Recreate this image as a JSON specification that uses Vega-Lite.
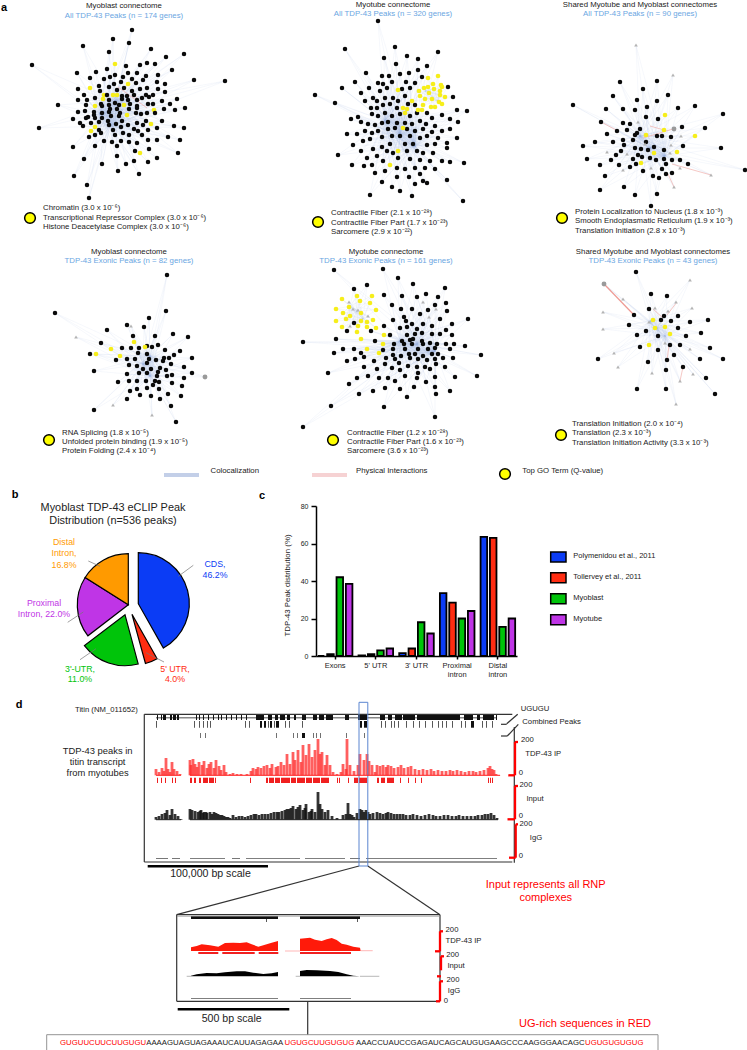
{"$schema":"https://vega.github.io/schema/vega-lite/v6.json","padding":0,"spacing":0,"config":{"view":{"stroke":null},"font":"Liberation Sans"},
"datasets":{
"hubs":[{"h":"a","hx":100,"hy":113,"ax":115,"ay":100,"bx":110,"by":125},{"h":"b","hx":400,"hy":133,"ax":385,"ay":120,"bx":415,"by":145},{"h":"b2","hx":432,"hy":97,"ax":425,"ay":90,"bx":438,"by":100},{"h":"c","hx":650,"hy":147,"ax":640,"ay":135,"bx":665,"by":155},{"h":"d","hx":143,"hy":363,"ax":150,"ay":355,"bx":150,"by":375},{"h":"e","hx":417,"hy":343,"ax":400,"ay":340,"bx":435,"by":350},{"h":"e2","hx":357,"hy":310,"ax":350,"ay":305,"bx":363,"by":318},{"h":"f","hx":657,"hy":327,"ax":650,"ay":320,"bx":665,"by":335}],
"nodes":[
{"h":"a","t":"b","x":132,"y":29},{"h":"a","t":"b","x":113,"y":38},{"h":"a","t":"b","x":129,"y":42},{"h":"a","t":"b","x":83,"y":45},{"h":"a","t":"b","x":151,"y":48},{"h":"a","t":"b","x":109,"y":51},{"h":"a","t":"b","x":184,"y":53},{"h":"a","t":"b","x":166,"y":56},{"h":"a","t":"b","x":32,"y":64},{"h":"a","t":"y","x":115,"y":63},{"h":"a","t":"b","x":126,"y":65},{"h":"a","t":"b","x":140,"y":64},{"h":"a","t":"b","x":147,"y":62},{"h":"a","t":"b","x":155,"y":63},{"h":"a","t":"b","x":172,"y":69},{"h":"a","t":"b","x":96,"y":71},{"h":"a","t":"b","x":107,"y":68},{"h":"a","t":"b","x":115,"y":74},{"h":"a","t":"b","x":77,"y":72},{"h":"a","t":"b","x":128,"y":72},{"h":"a","t":"b","x":137,"y":72},{"h":"a","t":"b","x":158,"y":74},{"h":"a","t":"b","x":90,"y":77},{"h":"a","t":"b","x":104,"y":78},{"h":"a","t":"b","x":110,"y":76},{"h":"a","t":"b","x":123,"y":76},{"h":"a","t":"b","x":132,"y":78},{"h":"a","t":"b","x":146,"y":75},{"h":"a","t":"b","x":143,"y":79},{"h":"a","t":"b","x":157,"y":81},{"h":"a","t":"b","x":194,"y":79},{"h":"a","t":"b","x":225,"y":80},{"h":"a","t":"y","x":128,"y":83},{"h":"a","t":"b","x":114,"y":83},{"h":"a","t":"b","x":121,"y":81},{"h":"a","t":"b","x":136,"y":82},{"h":"a","t":"b","x":165,"y":83},{"h":"a","t":"b","x":78,"y":88},{"h":"a","t":"y","x":90,"y":87},{"h":"a","t":"b","x":99,"y":85},{"h":"a","t":"b","x":109,"y":86},{"h":"a","t":"b","x":100,"y":90},{"h":"a","t":"b","x":117,"y":89},{"h":"a","t":"b","x":124,"y":87},{"h":"a","t":"b","x":132,"y":90},{"h":"a","t":"b","x":140,"y":88},{"h":"a","t":"b","x":147,"y":87},{"h":"a","t":"b","x":158,"y":88},{"h":"a","t":"b","x":84,"y":94},{"h":"a","t":"b","x":95,"y":97},{"h":"a","t":"y","x":104,"y":94},{"h":"a","t":"y","x":103,"y":98},{"h":"a","t":"y","x":117,"y":94},{"h":"a","t":"b","x":107,"y":94},{"h":"a","t":"y","x":113,"y":94},{"h":"a","t":"b","x":122,"y":95},{"h":"a","t":"b","x":127,"y":95},{"h":"a","t":"b","x":134,"y":94},{"h":"a","t":"b","x":146,"y":94},{"h":"a","t":"b","x":153,"y":94},{"h":"a","t":"b","x":165,"y":91},{"h":"a","t":"b","x":78,"y":99},{"h":"a","t":"b","x":87,"y":99},{"h":"a","t":"b","x":101,"y":103},{"h":"a","t":"b","x":109,"y":99},{"h":"a","t":"b","x":115,"y":102},{"h":"a","t":"b","x":122,"y":98},{"h":"a","t":"b","x":128,"y":99},{"h":"a","t":"b","x":137,"y":99},{"h":"a","t":"b","x":142,"y":97},{"h":"a","t":"b","x":149,"y":96},{"h":"a","t":"b","x":162,"y":100},{"h":"a","t":"b","x":177,"y":98},{"h":"a","t":"b","x":58,"y":104},{"h":"a","t":"b","x":86,"y":104},{"h":"a","t":"y","x":95,"y":105},{"h":"a","t":"b","x":102,"y":105},{"h":"a","t":"b","x":109,"y":104},{"h":"a","t":"b","x":119,"y":104},{"h":"a","t":"y","x":124,"y":104},{"h":"a","t":"b","x":130,"y":103},{"h":"a","t":"b","x":137,"y":105},{"h":"a","t":"b","x":148,"y":103},{"h":"a","t":"b","x":153,"y":103},{"h":"a","t":"b","x":170,"y":103},{"h":"a","t":"b","x":185,"y":107},{"h":"a","t":"b","x":78,"y":111},{"h":"a","t":"b","x":85,"y":110},{"h":"a","t":"b","x":94,"y":111},{"h":"a","t":"b","x":110,"y":108},{"h":"a","t":"b","x":117,"y":108},{"h":"a","t":"b","x":129,"y":108},{"h":"a","t":"b","x":137,"y":107},{"h":"a","t":"b","x":164,"y":108},{"h":"a","t":"b","x":175,"y":109},{"h":"a","t":"y","x":154,"y":109},{"h":"a","t":"b","x":73,"y":118},{"h":"a","t":"b","x":88,"y":116},{"h":"a","t":"b","x":94,"y":114},{"h":"a","t":"b","x":102,"y":112},{"h":"a","t":"b","x":109,"y":111},{"h":"a","t":"b","x":120,"y":112},{"h":"a","t":"y","x":127,"y":114},{"h":"a","t":"b","x":136,"y":112},{"h":"a","t":"b","x":141,"y":113},{"h":"a","t":"b","x":147,"y":112},{"h":"a","t":"b","x":155,"y":112},{"h":"a","t":"b","x":86,"y":117},{"h":"a","t":"b","x":95,"y":117},{"h":"a","t":"b","x":102,"y":117},{"h":"a","t":"b","x":111,"y":115},{"h":"a","t":"b","x":119,"y":115},{"h":"a","t":"b","x":80,"y":122},{"h":"a","t":"b","x":91,"y":122},{"h":"a","t":"b","x":99,"y":121},{"h":"a","t":"b","x":108,"y":120},{"h":"a","t":"b","x":122,"y":120},{"h":"a","t":"b","x":137,"y":122},{"h":"a","t":"b","x":146,"y":120},{"h":"a","t":"b","x":162,"y":120},{"h":"a","t":"b","x":39,"y":127},{"h":"a","t":"b","x":83,"y":125},{"h":"a","t":"y","x":95,"y":126},{"h":"a","t":"b","x":109,"y":124},{"h":"a","t":"b","x":116,"y":123},{"h":"a","t":"b","x":128,"y":124},{"h":"a","t":"b","x":143,"y":124},{"h":"a","t":"y","x":151,"y":123},{"h":"a","t":"b","x":174,"y":125},{"h":"a","t":"b","x":184,"y":127},{"h":"a","t":"y","x":91,"y":130},{"h":"a","t":"b","x":99,"y":129},{"h":"a","t":"b","x":113,"y":129},{"h":"a","t":"b","x":121,"y":126},{"h":"a","t":"b","x":134,"y":128},{"h":"a","t":"b","x":138,"y":130},{"h":"a","t":"b","x":148,"y":129},{"h":"a","t":"b","x":157,"y":127},{"h":"a","t":"b","x":89,"y":136},{"h":"a","t":"b","x":95,"y":134},{"h":"a","t":"b","x":101,"y":132},{"h":"a","t":"b","x":115,"y":134},{"h":"a","t":"b","x":123,"y":132},{"h":"a","t":"b","x":129,"y":134},{"h":"a","t":"b","x":142,"y":134},{"h":"a","t":"b","x":168,"y":136},{"h":"a","t":"b","x":157,"y":139},{"h":"a","t":"b","x":148,"y":139},{"h":"a","t":"b","x":104,"y":140},{"h":"a","t":"b","x":112,"y":141},{"h":"a","t":"b","x":121,"y":140},{"h":"a","t":"b","x":129,"y":141},{"h":"a","t":"b","x":137,"y":142},{"h":"a","t":"b","x":180,"y":139},{"h":"a","t":"b","x":73,"y":146},{"h":"a","t":"b","x":95,"y":145},{"h":"a","t":"b","x":117,"y":145},{"h":"a","t":"b","x":149,"y":148},{"h":"a","t":"b","x":135,"y":150},{"h":"a","t":"y","x":140,"y":152},{"h":"a","t":"b","x":178,"y":152},{"h":"a","t":"b","x":84,"y":158},{"h":"a","t":"b","x":117,"y":155},{"h":"a","t":"b","x":157,"y":157},{"h":"a","t":"b","x":102,"y":163},{"h":"a","t":"b","x":126,"y":163},{"h":"a","t":"b","x":134,"y":160},{"h":"a","t":"b","x":148,"y":161},{"h":"a","t":"b","x":118,"y":170},{"h":"a","t":"b","x":139,"y":173},{"h":"a","t":"b","x":74,"y":175},{"h":"a","t":"b","x":87,"y":184},{"h":"a","t":"b","x":89,"y":197},
{"h":"b","t":"b","x":378,"y":20},{"h":"b","t":"b","x":345,"y":48},{"h":"b","t":"b","x":395,"y":46},{"h":"b","t":"b","x":438,"y":51},{"h":"b","t":"b","x":384,"y":57},{"h":"b","t":"b","x":407,"y":55},{"h":"b","t":"b","x":418,"y":58},{"h":"b","t":"b","x":396,"y":63},{"h":"b","t":"b","x":427,"y":65},{"h":"b","t":"b","x":315,"y":94},{"h":"b","t":"b","x":335,"y":102},{"h":"b","t":"b","x":342,"y":87},{"h":"b","t":"b","x":355,"y":81},{"h":"b","t":"b","x":366,"y":72},{"h":"b","t":"b","x":361,"y":92},{"h":"b","t":"b","x":369,"y":87},{"h":"b","t":"b","x":382,"y":75},{"h":"b","t":"b","x":389,"y":75},{"h":"b","t":"b","x":400,"y":73},{"h":"b","t":"b","x":409,"y":72},{"h":"b","t":"b","x":418,"y":69},{"h":"b","t":"b","x":422,"y":76},{"h":"b","t":"b","x":378,"y":82},{"h":"b","t":"b","x":383,"y":83},{"h":"b","t":"b","x":392,"y":81},{"h":"b","t":"b","x":406,"y":81},{"h":"b","t":"b","x":415,"y":82},{"h":"b","t":"b","x":373,"y":97},{"h":"b","t":"b","x":380,"y":90},{"h":"b","t":"b","x":387,"y":87},{"h":"b","t":"b","x":402,"y":88},{"h":"b","t":"b","x":410,"y":87},{"h":"b","t":"b","x":365,"y":100},{"h":"b","t":"b","x":377,"y":100},{"h":"b","t":"b","x":385,"y":97},{"h":"b","t":"b","x":393,"y":97},{"h":"b","t":"b","x":405,"y":95},{"h":"b","t":"b","x":398,"y":100},{"h":"b","t":"b","x":371,"y":107},{"h":"b","t":"b","x":377,"y":107},{"h":"b","t":"b","x":383,"y":104},{"h":"b","t":"b","x":390,"y":103},{"h":"b","t":"b","x":408,"y":103},{"h":"b","t":"b","x":415,"y":104},{"h":"b","t":"b","x":397,"y":107},{"h":"b","t":"b","x":358,"y":116},{"h":"b","t":"b","x":351,"y":118},{"h":"b","t":"b","x":361,"y":121},{"h":"b","t":"b","x":372,"y":113},{"h":"b","t":"b","x":378,"y":115},{"h":"b","t":"b","x":385,"y":112},{"h":"b","t":"b","x":392,"y":115},{"h":"b","t":"b","x":400,"y":113},{"h":"b","t":"b","x":410,"y":115},{"h":"b","t":"b","x":417,"y":112},{"h":"b","t":"b","x":427,"y":112},{"h":"b","t":"b","x":432,"y":117},{"h":"b","t":"b","x":442,"y":114},{"h":"b","t":"b","x":450,"y":118},{"h":"b","t":"b","x":458,"y":121},{"h":"b","t":"b","x":467,"y":110},{"h":"b","t":"b","x":457,"y":109},{"h":"b","t":"b","x":368,"y":123},{"h":"b","t":"b","x":375,"y":124},{"h":"b","t":"b","x":382,"y":122},{"h":"b","t":"b","x":388,"y":121},{"h":"b","t":"b","x":397,"y":122},{"h":"b","t":"b","x":405,"y":122},{"h":"b","t":"b","x":412,"y":123},{"h":"b","t":"b","x":420,"y":120},{"h":"b","t":"b","x":426,"y":123},{"h":"b","t":"b","x":435,"y":125},{"h":"b","t":"b","x":347,"y":133},{"h":"b","t":"b","x":357,"y":133},{"h":"b","t":"b","x":365,"y":130},{"h":"b","t":"b","x":372,"y":132},{"h":"b","t":"b","x":378,"y":130},{"h":"b","t":"b","x":388,"y":128},{"h":"b","t":"b","x":395,"y":127},{"h":"b","t":"b","x":407,"y":128},{"h":"b","t":"b","x":415,"y":130},{"h":"b","t":"b","x":423,"y":128},{"h":"b","t":"b","x":432,"y":131},{"h":"b","t":"b","x":442,"y":130},{"h":"b","t":"b","x":450,"y":128},{"h":"b","t":"b","x":363,"y":140},{"h":"b","t":"b","x":370,"y":138},{"h":"b","t":"b","x":382,"y":136},{"h":"b","t":"b","x":392,"y":135},{"h":"b","t":"b","x":400,"y":135},{"h":"b","t":"b","x":410,"y":135},{"h":"b","t":"b","x":420,"y":137},{"h":"b","t":"b","x":427,"y":135},{"h":"b","t":"b","x":438,"y":137},{"h":"b","t":"b","x":457,"y":137},{"h":"b","t":"b","x":353,"y":144},{"h":"b","t":"b","x":361,"y":150},{"h":"b","t":"b","x":373,"y":148},{"h":"b","t":"b","x":382,"y":146},{"h":"b","t":"b","x":390,"y":143},{"h":"b","t":"b","x":405,"y":143},{"h":"b","t":"b","x":413,"y":143},{"h":"b","t":"b","x":427,"y":144},{"h":"b","t":"b","x":435,"y":143},{"h":"b","t":"b","x":447,"y":142},{"h":"b","t":"b","x":338,"y":154},{"h":"b","t":"b","x":367,"y":157},{"h":"b","t":"b","x":377,"y":155},{"h":"b","t":"b","x":387,"y":150},{"h":"b","t":"b","x":393,"y":152},{"h":"b","t":"b","x":407,"y":150},{"h":"b","t":"b","x":417,"y":150},{"h":"b","t":"b","x":423,"y":152},{"h":"b","t":"b","x":433,"y":152},{"h":"b","t":"b","x":447,"y":147},{"h":"b","t":"b","x":352,"y":164},{"h":"b","t":"b","x":364,"y":165},{"h":"b","t":"b","x":372,"y":164},{"h":"b","t":"b","x":383,"y":160},{"h":"b","t":"b","x":398,"y":157},{"h":"b","t":"b","x":410,"y":158},{"h":"b","t":"b","x":420,"y":159},{"h":"b","t":"b","x":430,"y":160},{"h":"b","t":"b","x":442,"y":160},{"h":"b","t":"b","x":450,"y":161},{"h":"b","t":"b","x":464,"y":162},{"h":"b","t":"b","x":375,"y":172},{"h":"b","t":"b","x":385,"y":170},{"h":"b","t":"b","x":397,"y":167},{"h":"b","t":"b","x":405,"y":168},{"h":"b","t":"b","x":415,"y":167},{"h":"b","t":"b","x":425,"y":167},{"h":"b","t":"b","x":435,"y":168},{"h":"b","t":"b","x":397,"y":176},{"h":"b","t":"b","x":409,"y":176},{"h":"b","t":"b","x":420,"y":173},{"h":"b","t":"b","x":382,"y":181},{"h":"b","t":"b","x":392,"y":186},{"h":"b","t":"b","x":415,"y":183},{"h":"b","t":"b","x":423,"y":180},{"h":"b","t":"b","x":427,"y":182},{"h":"b","t":"b","x":447,"y":179},{"h":"b","t":"b","x":400,"y":190},{"h":"b","t":"b","x":370,"y":194},{"h":"b","t":"b","x":412,"y":195},{"h":"b","t":"b","x":463,"y":200},{"h":"b2","t":"b","x":448,"y":86},{"h":"b2","t":"b","x":453,"y":96},
{"h":"b2","t":"y","x":438,"y":75},{"h":"b2","t":"y","x":428,"y":77},{"h":"b2","t":"y","x":419,"y":90},{"h":"b2","t":"y","x":424,"y":87},{"h":"b2","t":"y","x":428,"y":86},{"h":"b2","t":"y","x":434,"y":88},{"h":"b2","t":"y","x":433,"y":83},{"h":"b2","t":"y","x":441,"y":84},{"h":"b2","t":"y","x":442,"y":86},{"h":"b2","t":"y","x":429,"y":92},{"h":"b2","t":"y","x":440,"y":90},{"h":"b2","t":"y","x":420,"y":95},{"h":"b2","t":"y","x":425,"y":98},{"h":"b2","t":"y","x":432,"y":98},{"h":"b2","t":"y","x":440,"y":94},{"h":"b2","t":"y","x":445,"y":96},{"h":"b2","t":"y","x":439,"y":101},{"h":"b2","t":"y","x":412,"y":100},{"h":"b2","t":"y","x":423,"y":104},{"h":"b2","t":"y","x":431,"y":106},{"h":"b2","t":"y","x":435,"y":106},{"h":"b2","t":"y","x":442,"y":103},{"h":"b","t":"y","x":398,"y":89},{"h":"b","t":"y","x":403,"y":107},{"h":"b","t":"y","x":407,"y":108},{"h":"b","t":"y","x":405,"y":112},{"h":"b","t":"y","x":418,"y":109},{"h":"b","t":"y","x":422,"y":109},{"h":"b","t":"y","x":403,"y":127},{"h":"b","t":"y","x":398,"y":150},{"h":"b","t":"y","x":390,"y":164},
{"h":"c","t":"g","x":636,"y":44},{"h":"c","t":"g","x":673,"y":74},{"h":"c","t":"b","x":573,"y":104},{"h":"c","t":"b","x":620,"y":81},{"h":"c","t":"b","x":657,"y":80},{"h":"c","t":"b","x":643,"y":88},{"h":"c","t":"b","x":668,"y":94},{"h":"c","t":"b","x":613,"y":95},{"h":"c","t":"b","x":637,"y":99},{"h":"c","t":"b","x":657,"y":100},{"h":"c","t":"b","x":606,"y":108},{"h":"c","t":"b","x":623,"y":108},{"h":"c","t":"b","x":635,"y":109},{"h":"c","t":"b","x":647,"y":106},{"h":"c","t":"b","x":678,"y":107},{"h":"c","t":"b","x":695,"y":105},{"h":"c","t":"b","x":723,"y":113},{"h":"c","t":"b","x":646,"y":116},{"h":"c","t":"b","x":658,"y":118},{"h":"c","t":"b","x":601,"y":121},{"h":"c","t":"b","x":623,"y":122},{"h":"c","t":"b","x":630,"y":123},{"h":"c","t":"b","x":640,"y":128},{"h":"c","t":"b","x":682,"y":126},{"h":"c","t":"b","x":705,"y":127},{"h":"c","t":"b","x":617,"y":130},{"h":"c","t":"b","x":627,"y":129},{"h":"c","t":"b","x":607,"y":133},{"h":"c","t":"b","x":637,"y":132},{"h":"c","t":"b","x":657,"y":135},{"h":"c","t":"b","x":662,"y":135},{"h":"c","t":"b","x":671,"y":136},{"h":"c","t":"b","x":595,"y":141},{"h":"c","t":"b","x":613,"y":141},{"h":"c","t":"b","x":623,"y":139},{"h":"c","t":"b","x":633,"y":139},{"h":"c","t":"b","x":635,"y":134},{"h":"c","t":"b","x":646,"y":141},{"h":"c","t":"b","x":583,"y":145},{"h":"c","t":"b","x":624,"y":144},{"h":"c","t":"b","x":635,"y":147},{"h":"c","t":"b","x":641,"y":148},{"h":"c","t":"b","x":648,"y":149},{"h":"c","t":"b","x":654,"y":146},{"h":"c","t":"b","x":664,"y":149},{"h":"c","t":"b","x":683,"y":145},{"h":"c","t":"b","x":721,"y":147},{"h":"c","t":"b","x":621,"y":150},{"h":"c","t":"b","x":616,"y":154},{"h":"c","t":"b","x":638,"y":154},{"h":"c","t":"b","x":587,"y":158},{"h":"c","t":"b","x":611,"y":159},{"h":"c","t":"b","x":633,"y":158},{"h":"c","t":"b","x":642,"y":156},{"h":"c","t":"b","x":650,"y":157},{"h":"c","t":"b","x":656,"y":159},{"h":"c","t":"b","x":664,"y":158},{"h":"c","t":"b","x":672,"y":159},{"h":"c","t":"b","x":680,"y":159},{"h":"c","t":"b","x":600,"y":164},{"h":"c","t":"b","x":619,"y":164},{"h":"c","t":"b","x":630,"y":166},{"h":"c","t":"b","x":636,"y":163},{"h":"c","t":"b","x":666,"y":163},{"h":"c","t":"b","x":688,"y":163},{"h":"c","t":"b","x":643,"y":170},{"h":"c","t":"b","x":662,"y":168},{"h":"c","t":"b","x":666,"y":173},{"h":"c","t":"b","x":672,"y":172},{"h":"c","t":"b","x":605,"y":175},{"h":"c","t":"b","x":653,"y":175},{"h":"c","t":"b","x":659,"y":177},{"h":"c","t":"b","x":624,"y":186},{"h":"c","t":"b","x":600,"y":189},{"h":"c","t":"b","x":635,"y":194},{"h":"c","t":"b","x":657,"y":193},{"h":"c","t":"b","x":651,"y":205},{"h":"c","t":"b","x":745,"y":169},{"h":"c","t":"y","x":665,"y":114},{"h":"c","t":"y","x":664,"y":129},{"h":"c","t":"y","x":646,"y":134},{"h":"c","t":"y","x":695,"y":135},{"h":"c","t":"y","x":654,"y":152},{"h":"c","t":"y","x":677,"y":151},{"h":"c","t":"y","x":641,"y":162},{"h":"c","t":"G","x":674,"y":128},{"h":"c","t":"g","x":627,"y":153},{"h":"c","t":"g","x":638,"y":121},{"h":"c","t":"g","x":681,"y":135},{"h":"c","t":"g","x":671,"y":144},{"h":"c","t":"g","x":645,"y":143},{"h":"c","t":"g","x":607,"y":151},{"h":"c","t":"g","x":670,"y":152},{"h":"c","t":"g","x":623,"y":169},{"h":"c","t":"g","x":651,"y":167},{"h":"c","t":"g","x":680,"y":167},{"h":"c","t":"g","x":674,"y":186},{"h":"c","t":"g","x":711,"y":174},
{"h":"d","t":"b","x":167,"y":274},{"h":"d","t":"b","x":55,"y":312},{"h":"d","t":"b","x":166,"y":310},{"h":"d","t":"b","x":149,"y":317},{"h":"d","t":"b","x":127,"y":324},{"h":"d","t":"b","x":144,"y":326},{"h":"d","t":"b","x":107,"y":329},{"h":"d","t":"b","x":173,"y":333},{"h":"d","t":"b","x":133,"y":335},{"h":"d","t":"b","x":155,"y":335},{"h":"d","t":"b","x":188,"y":336},{"h":"d","t":"b","x":101,"y":342},{"h":"d","t":"b","x":158,"y":344},{"h":"d","t":"b","x":147,"y":345},{"h":"d","t":"b","x":122,"y":347},{"h":"d","t":"b","x":131,"y":347},{"h":"d","t":"b","x":139,"y":347},{"h":"d","t":"b","x":152,"y":346},{"h":"d","t":"b","x":165,"y":349},{"h":"d","t":"b","x":180,"y":350},{"h":"d","t":"b","x":90,"y":353},{"h":"d","t":"b","x":138,"y":352},{"h":"d","t":"b","x":174,"y":354},{"h":"d","t":"b","x":116,"y":359},{"h":"d","t":"b","x":127,"y":358},{"h":"d","t":"b","x":135,"y":358},{"h":"d","t":"b","x":147,"y":353},{"h":"d","t":"b","x":156,"y":359},{"h":"d","t":"b","x":164,"y":357},{"h":"d","t":"b","x":169,"y":357},{"h":"d","t":"b","x":192,"y":357},{"h":"d","t":"b","x":129,"y":364},{"h":"d","t":"b","x":137,"y":365},{"h":"d","t":"b","x":149,"y":358},{"h":"d","t":"b","x":147,"y":362},{"h":"d","t":"b","x":163,"y":360},{"h":"d","t":"b","x":171,"y":363},{"h":"d","t":"b","x":94,"y":370},{"h":"d","t":"b","x":143,"y":368},{"h":"d","t":"b","x":151,"y":368},{"h":"d","t":"b","x":160,"y":367},{"h":"d","t":"b","x":166,"y":369},{"h":"d","t":"b","x":184,"y":366},{"h":"d","t":"b","x":192,"y":372},{"h":"d","t":"b","x":127,"y":373},{"h":"d","t":"b","x":139,"y":372},{"h":"d","t":"b","x":147,"y":372},{"h":"d","t":"b","x":158,"y":371},{"h":"d","t":"b","x":172,"y":374},{"h":"d","t":"b","x":167,"y":375},{"h":"d","t":"b","x":157,"y":375},{"h":"d","t":"b","x":184,"y":377},{"h":"d","t":"b","x":118,"y":381},{"h":"d","t":"b","x":129,"y":380},{"h":"d","t":"b","x":137,"y":380},{"h":"d","t":"b","x":146,"y":380},{"h":"d","t":"b","x":155,"y":380},{"h":"d","t":"b","x":172,"y":382},{"h":"d","t":"b","x":159,"y":381},{"h":"d","t":"b","x":182,"y":385},{"h":"d","t":"b","x":137,"y":388},{"h":"d","t":"b","x":130,"y":390},{"h":"d","t":"b","x":147,"y":387},{"h":"d","t":"b","x":153,"y":384},{"h":"d","t":"b","x":159,"y":388},{"h":"d","t":"b","x":168,"y":393},{"h":"d","t":"b","x":140,"y":394},{"h":"d","t":"b","x":151,"y":395},{"h":"d","t":"b","x":160,"y":398},{"h":"d","t":"b","x":181,"y":395},{"h":"d","t":"b","x":127,"y":398},{"h":"d","t":"b","x":171,"y":405},{"h":"d","t":"b","x":94,"y":409},{"h":"d","t":"b","x":176,"y":421},{"h":"d","t":"y","x":134,"y":341},{"h":"d","t":"y","x":111,"y":348},{"h":"d","t":"y","x":145,"y":346},{"h":"d","t":"y","x":96,"y":353},{"h":"d","t":"y","x":120,"y":355},{"h":"d","t":"g","x":76,"y":336},{"h":"d","t":"g","x":113,"y":404},{"h":"d","t":"g","x":152,"y":414},{"h":"d","t":"G","x":205,"y":376},{"h":"d","t":"g","x":131,"y":325},
{"h":"e","t":"b","x":334,"y":269},{"h":"e","t":"b","x":383,"y":268},{"h":"e","t":"b","x":398,"y":277},{"h":"e","t":"b","x":413,"y":283},{"h":"e","t":"b","x":445,"y":287},{"h":"e2","t":"b","x":354,"y":288},{"h":"e2","t":"b","x":367,"y":284},{"h":"e","t":"b","x":384,"y":294},{"h":"e","t":"b","x":402,"y":295},{"h":"e","t":"b","x":417,"y":296},{"h":"e","t":"b","x":426,"y":293},{"h":"e","t":"b","x":438,"y":296},{"h":"e","t":"b","x":392,"y":304},{"h":"e","t":"b","x":435,"y":304},{"h":"e","t":"b","x":446,"y":302},{"h":"e","t":"b","x":401,"y":308},{"h":"e","t":"b","x":412,"y":308},{"h":"e","t":"b","x":428,"y":309},{"h":"e","t":"b","x":447,"y":310},{"h":"e","t":"b","x":420,"y":313},{"h":"e","t":"b","x":404,"y":316},{"h":"e","t":"b","x":393,"y":319},{"h":"e","t":"b","x":406,"y":320},{"h":"e","t":"b","x":440,"y":318},{"h":"e","t":"b","x":468,"y":318},{"h":"e2","t":"b","x":354,"y":322},{"h":"e","t":"b","x":384,"y":325},{"h":"e","t":"b","x":400,"y":327},{"h":"e","t":"b","x":412,"y":323},{"h":"e","t":"b","x":423,"y":323},{"h":"e","t":"b","x":452,"y":323},{"h":"e","t":"b","x":432,"y":325},{"h":"e2","t":"b","x":347,"y":330},{"h":"e","t":"b","x":407,"y":326},{"h":"e","t":"b","x":446,"y":329},{"h":"e","t":"b","x":417,"y":328},{"h":"e","t":"b","x":371,"y":330},{"h":"e","t":"b","x":422,"y":332},{"h":"e","t":"b","x":432,"y":333},{"h":"e","t":"b","x":440,"y":333},{"h":"e","t":"b","x":452,"y":334},{"h":"e","t":"b","x":390,"y":334},{"h":"e","t":"b","x":415,"y":333},{"h":"e","t":"b","x":407,"y":334},{"h":"e","t":"b","x":336,"y":338},{"h":"e","t":"b","x":375,"y":340},{"h":"e","t":"b","x":402,"y":340},{"h":"e","t":"b","x":410,"y":339},{"h":"e","t":"b","x":413,"y":338},{"h":"e","t":"b","x":422,"y":340},{"h":"e","t":"b","x":430,"y":342},{"h":"e","t":"b","x":437,"y":343},{"h":"e","t":"b","x":446,"y":343},{"h":"e","t":"b","x":454,"y":343},{"h":"e","t":"b","x":465,"y":345},{"h":"e","t":"b","x":394,"y":343},{"h":"e","t":"b","x":423,"y":343},{"h":"e","t":"b","x":404,"y":343},{"h":"e","t":"b","x":343,"y":348},{"h":"e","t":"b","x":354,"y":348},{"h":"e","t":"b","x":383,"y":349},{"h":"e","t":"b","x":393,"y":348},{"h":"e","t":"b","x":412,"y":343},{"h":"e","t":"b","x":405,"y":348},{"h":"e","t":"b","x":418,"y":348},{"h":"e","t":"b","x":428,"y":348},{"h":"e","t":"b","x":435,"y":347},{"h":"e","t":"b","x":450,"y":348},{"h":"e","t":"b","x":334,"y":352},{"h":"e","t":"b","x":361,"y":352},{"h":"e","t":"b","x":393,"y":354},{"h":"e","t":"b","x":401,"y":355},{"h":"e","t":"b","x":409,"y":353},{"h":"e","t":"b","x":415,"y":353},{"h":"e","t":"b","x":423,"y":355},{"h":"e","t":"b","x":432,"y":353},{"h":"e","t":"b","x":438,"y":353},{"h":"e","t":"b","x":481,"y":354},{"h":"e","t":"b","x":364,"y":356},{"h":"e","t":"b","x":374,"y":360},{"h":"e","t":"b","x":386,"y":357},{"h":"e","t":"b","x":395,"y":358},{"h":"e","t":"b","x":410,"y":357},{"h":"e","t":"b","x":418,"y":358},{"h":"e","t":"b","x":427,"y":359},{"h":"e","t":"b","x":435,"y":358},{"h":"e","t":"b","x":443,"y":357},{"h":"e","t":"b","x":453,"y":357},{"h":"e","t":"b","x":347,"y":360},{"h":"e","t":"b","x":355,"y":358},{"h":"e","t":"b","x":385,"y":363},{"h":"e","t":"b","x":399,"y":362},{"h":"e","t":"b","x":408,"y":365},{"h":"e","t":"b","x":417,"y":366},{"h":"e","t":"b","x":425,"y":366},{"h":"e","t":"b","x":436,"y":363},{"h":"e","t":"b","x":445,"y":366},{"h":"e","t":"b","x":364,"y":366},{"h":"e","t":"b","x":377,"y":368},{"h":"e","t":"b","x":392,"y":367},{"h":"e","t":"b","x":400,"y":369},{"h":"e","t":"b","x":418,"y":372},{"h":"e","t":"b","x":430,"y":368},{"h":"e","t":"b","x":328,"y":372},{"h":"e","t":"b","x":368,"y":375},{"h":"e","t":"b","x":379,"y":377},{"h":"e","t":"b","x":388,"y":377},{"h":"e","t":"b","x":405,"y":375},{"h":"e","t":"b","x":417,"y":377},{"h":"e","t":"b","x":435,"y":376},{"h":"e","t":"b","x":357,"y":377},{"h":"e","t":"b","x":455,"y":376},{"h":"e","t":"b","x":477,"y":375},{"h":"e","t":"b","x":426,"y":381},{"h":"e","t":"b","x":349,"y":383},{"h":"e","t":"b","x":395,"y":380},{"h":"e","t":"b","x":414,"y":386},{"h":"e","t":"b","x":385,"y":387},{"h":"e","t":"b","x":400,"y":388},{"h":"e","t":"b","x":435,"y":386},{"h":"e","t":"b","x":373,"y":390},{"h":"e","t":"b","x":359,"y":393},{"h":"e","t":"b","x":450,"y":390},{"h":"e","t":"b","x":407,"y":396},{"h":"e","t":"b","x":436,"y":393},{"h":"e","t":"b","x":331,"y":405},{"h":"e","t":"b","x":384,"y":406},{"h":"e","t":"b","x":435,"y":416},{"h":"e","t":"b","x":303,"y":341},{"h":"e","t":"b","x":303,"y":426},
{"h":"e2","t":"y","x":342,"y":298},{"h":"e2","t":"y","x":357,"y":295},{"h":"e2","t":"y","x":372,"y":295},{"h":"e2","t":"y","x":349,"y":306},{"h":"e2","t":"y","x":360,"y":300},{"h":"e2","t":"y","x":370,"y":302},{"h":"e2","t":"y","x":336,"y":308},{"h":"e2","t":"y","x":376,"y":309},{"h":"e2","t":"y","x":343,"y":312},{"h":"e2","t":"y","x":361,"y":312},{"h":"e2","t":"y","x":350,"y":315},{"h":"e2","t":"y","x":346,"y":318},{"h":"e2","t":"y","x":336,"y":320},{"h":"e2","t":"y","x":361,"y":320},{"h":"e2","t":"y","x":367,"y":321},{"h":"e2","t":"y","x":373,"y":319},{"h":"e2","t":"y","x":342,"y":326},{"h":"e2","t":"y","x":358,"y":325},{"h":"e2","t":"y","x":367,"y":326},{"h":"e2","t":"y","x":376,"y":327},{"h":"e2","t":"y","x":357,"y":331},{"h":"e","t":"y","x":384,"y":334},{"h":"e","t":"y","x":361,"y":338},{"h":"e","t":"y","x":383,"y":343},{"h":"e","t":"y","x":367,"y":348},{"h":"e","t":"y","x":379,"y":352},{"h":"e2","t":"g","x":349,"y":301},{"h":"e2","t":"g","x":353,"y":308},{"h":"e2","t":"g","x":358,"y":309},{"h":"e2","t":"g","x":350,"y":325},{"h":"e2","t":"g","x":368,"y":315},{"h":"e","t":"g","x":423,"y":301},{"h":"e","t":"g","x":429,"y":316},{"h":"e","t":"g","x":436,"y":308},
{"h":"f","t":"b","x":636,"y":271},{"h":"f","t":"b","x":651,"y":293},{"h":"f","t":"b","x":667,"y":295},{"h":"f","t":"b","x":649,"y":308},{"h":"f","t":"b","x":634,"y":314},{"h":"f","t":"b","x":664,"y":315},{"h":"f","t":"b","x":678,"y":315},{"h":"f","t":"b","x":661,"y":319},{"h":"f","t":"b","x":671,"y":320},{"h":"f","t":"b","x":690,"y":321},{"h":"f","t":"b","x":708,"y":319},{"h":"f","t":"b","x":629,"y":324},{"h":"f","t":"b","x":646,"y":330},{"h":"f","t":"b","x":678,"y":327},{"h":"f","t":"b","x":637,"y":334},{"h":"f","t":"b","x":658,"y":335},{"h":"f","t":"b","x":686,"y":335},{"h":"f","t":"b","x":701,"y":332},{"h":"f","t":"b","x":640,"y":346},{"h":"f","t":"b","x":670,"y":344},{"h":"f","t":"b","x":680,"y":344},{"h":"f","t":"b","x":658,"y":349},{"h":"f","t":"b","x":710,"y":347},{"h":"f","t":"b","x":674,"y":354},{"h":"f","t":"b","x":598,"y":358},{"h":"f","t":"b","x":648,"y":361},{"h":"f","t":"b","x":667,"y":359},{"h":"f","t":"b","x":700,"y":358},{"h":"f","t":"b","x":723,"y":358},{"h":"f","t":"b","x":683,"y":366},{"h":"f","t":"b","x":666,"y":369},{"h":"f","t":"b","x":706,"y":377},{"h":"f","t":"b","x":637,"y":388},{"h":"f","t":"b","x":666,"y":388},{"h":"f","t":"b","x":715,"y":393},{"h":"f","t":"y","x":653,"y":319},{"h":"f","t":"y","x":655,"y":327},{"h":"f","t":"y","x":670,"y":333},{"h":"f","t":"y","x":649,"y":344},{"h":"f","t":"y","x":665,"y":326},{"h":"f","t":"G","x":604,"y":283},{"h":"f","t":"g","x":690,"y":279},{"h":"f","t":"g","x":623,"y":298},{"h":"f","t":"g","x":676,"y":301},{"h":"f","t":"g","x":655,"y":307},{"h":"f","t":"g","x":668,"y":310},{"h":"f","t":"g","x":692,"y":307},{"h":"f","t":"g","x":603,"y":311},{"h":"f","t":"g","x":603,"y":328},{"h":"f","t":"g","x":649,"y":321},{"h":"f","t":"g","x":614,"y":352},{"h":"f","t":"g","x":618,"y":366},{"h":"f","t":"g","x":690,"y":348},{"h":"f","t":"g","x":665,"y":342},{"h":"f","t":"g","x":652,"y":372},{"h":"f","t":"g","x":693,"y":373},{"h":"f","t":"g","x":680,"y":380},{"h":"f","t":"g","x":676,"y":403}],
"aLines":[{"x":118,"y":86,"x2":147,"y2":107,"k":"e"},{"x":133,"y":93,"x2":140,"y2":100,"k":"e"},{"x":643,"y":137,"x2":673,"y2":128,"k":"e"},{"x":650,"y":125,"x2":664,"y2":129,"k":"e"},{"x":711,"y":174,"x2":672,"y2":163,"k":"e"},{"x":603,"y":122,"x2":618,"y2":130,"k":"e"},{"x":668,"y":173,"x2":674,"y2":186,"k":"e"},{"x":604,"y":283,"x2":634,"y2":314,"k":"E"},{"x":653,"y":308,"x2":663,"y2":317,"k":"e"},{"x":677,"y":301,"x2":667,"y2":314,"k":"e"},{"x":667,"y":359,"x2":669,"y2":345,"k":"e"},{"x":683,"y":366,"x2":680,"y2":380,"k":"e"},{"x":164,"y":474,"x2":199,"y2":474,"k":"c"},{"x":312,"y":474,"x2":347,"y2":474,"k":"p"}],
"go":[{"x":30,"y":217},{"x":318,"y":221},{"x":562,"y":217},{"x":49,"y":439},{"x":333,"y":439},{"x":561,"y":434},{"x":505,"y":473}],
"aTitles":[{"x":124,"y":5,"t":"Myoblast connectome"},{"x":393,"y":4,"t":"Myotube connectome"},{"x":640,"y":3.5,"t":"Shared Myotube and Myoblast connectomes"},{"x":129,"y":251,"t":"Myoblast connectome"},{"x":386,"y":251,"t":"Myotube connectome"},{"x":653,"y":251,"t":"Shared Myotube and Myoblast connectomes"}],
"aBlue":[{"x":124,"y":15,"t":"All TDP-43 Peaks (n = 174 genes)"},{"x":393,"y":13,"t":"All TDP-43 Peaks (n = 320 genes)"},{"x":640,"y":13,"t":"All TDP-43 Peaks (n = 90 genes)"},{"x":129,"y":260,"t":"TDP-43 Exonic Peaks (n = 82 genes)"},{"x":386,"y":260,"t":"TDP-43 Exonic Peaks (n = 161 genes)"},{"x":653,"y":260,"t":"TDP-43 Exonic Peaks (n = 43 genes)"}],
"aText":[{"x":43,"y":207.3,"t":"Chromatin (3.0 x 10⁻⁶)"},{"x":43,"y":217,"t":"Transcriptional Repressor Complex (3.0 x 10⁻⁶)"},{"x":43,"y":226.3,"t":"Histone Deacetylase Complex (3.0 x 10⁻⁶)"},{"x":331,"y":212,"t":"Contractile Fiber (2.1 x 10⁻²⁸)"},{"x":331,"y":221.7,"t":"Contractile Fiber Part (1.7 x 10⁻²³)"},{"x":331,"y":231,"t":"Sarcomere (2.9 x 10⁻²²)"},{"x":575,"y":211,"t":"Protein Localization to Nucleus (1.8 x 10⁻³)"},{"x":575,"y":220.3,"t":"Smooth Endoplasmatic Reticulum (1.9 x 10⁻³)"},{"x":575,"y":229.7,"t":"Translation Initiation (2.8 x 10⁻³)"},{"x":62,"y":431.7,"t":"RNA Splicing (1.8 x 10⁻⁵)"},{"x":62,"y":441,"t":"Unfolded protein binding (1.9 x 10⁻⁵)"},{"x":62,"y":450.3,"t":"Protein Folding (2.4 x 10⁻⁴)"},{"x":347,"y":431.7,"t":"Contractile Fiber (1.2 x 10⁻²⁸)"},{"x":347,"y":441,"t":"Contractile Fiber Part (1.6 x 10⁻²³)"},{"x":347,"y":450.3,"t":"Sarcomere (3.6 x 10⁻²³)"},{"x":572,"y":423,"t":"Translation Initiation (2.0 x 10⁻⁴)"},{"x":572,"y":432,"t":"Translation (2.3 x 10⁻³)"},{"x":572,"y":441.7,"t":"Translation Initiation Activity (3.3 x 10⁻³)"},{"x":210.5,"y":470.3,"t":"Colocalization"},{"x":356,"y":470.3,"t":"Physical Interactions"},{"x":522.3,"y":470.3,"t":"Top GO Term (Q-value)"}],
"pie":[{"s":"CDS","a0":0,"a1":150.5,"x":138.3,"y":601.7},{"s":"5' UTR","a0":150.5,"a1":164.7,"x":132,"y":612.3},{"s":"3'-UTR","a0":165,"a1":232.7,"x":125,"y":612.7},{"s":"Proximal Intron","a0":232.4,"a1":302.2,"x":128.3,"y":602.7},{"s":"Distal Intron","a0":302.2,"a1":360,"x":128.3,"y":602.7}],
"pieLeaders":[{"x":178.3,"y":574.3,"x2":193.3,"y2":563.3},{"x":88.3,"y":559,"x2":100,"y2":564.3},{"x":67.7,"y":620.3,"x2":83.3,"y2":610},{"x":80,"y":657.7,"x2":96,"y2":646.7},{"x":146,"y":650.7,"x2":164,"y2":660}],
"pieLabels":[{"s":"CDS","x":215,"y":561.7,"t":"CDS,"},{"s":"CDS","x":215,"y":573,"t":"46.2%"},{"s":"Distal Intron","x":64,"y":540,"t":"Distal"},{"s":"Distal Intron","x":64,"y":551.3,"t":"Intron,"},{"s":"Distal Intron","x":64,"y":563,"t":"16.8%"},{"s":"Proximal Intron","x":44,"y":601,"t":"Proximal"},{"s":"Proximal Intron","x":44,"y":612,"t":"Intron, 22.0%"},{"s":"3'-UTR","x":80,"y":666.7,"t":"3'-UTR,"},{"s":"3'-UTR","x":80,"y":677,"t":"11.0%"},{"s":"5' UTR","x":175,"y":666.7,"t":"5' UTR,"},{"s":"5' UTR","x":175,"y":677.3,"t":"4.0%"}],
"bars":[{"g":"Exons","s":"Polymenidou et al., 2011","v":0},{"g":"Exons","s":"Tollervey et al., 2011","v":1},{"g":"Exons","s":"Myoblast","v":42},{"g":"Exons","s":"Myotube","v":38.5},{"g":"5' UTR","s":"Polymenidou et al., 2011","v":0.3},{"g":"5' UTR","s":"Tollervey et al., 2011","v":1},{"g":"5' UTR","s":"Myoblast","v":3},{"g":"5' UTR","s":"Myotube","v":4},{"g":"3' UTR","s":"Polymenidou et al., 2011","v":1.5},{"g":"3' UTR","s":"Tollervey et al., 2011","v":4},{"g":"3' UTR","s":"Myoblast","v":18},{"g":"3' UTR","s":"Myotube","v":12},{"g":"Proximal intron","s":"Polymenidou et al., 2011","v":33.5},{"g":"Proximal intron","s":"Tollervey et al., 2011","v":28.5},{"g":"Proximal intron","s":"Myoblast","v":20},{"g":"Proximal intron","s":"Myotube","v":24},{"g":"Distal intron","s":"Polymenidou et al., 2011","v":63.5},{"g":"Distal intron","s":"Tollervey et al., 2011","v":63},{"g":"Distal intron","s":"Myoblast","v":15.5},{"g":"Distal intron","s":"Myotube","v":20}],
"barKey":[{"s":"Polymenidou et al., 2011","x":550.7,"x2":566,"y":550,"y2":560,"tx":573.3,"ty":554},{"s":"Tollervey et al., 2011","x":550.7,"x2":566,"y":570.7,"y2":580.7,"tx":573.3,"ty":575},{"s":"Myoblast","x":550.7,"x2":566,"y":591.7,"y2":601.7,"tx":573.3,"ty":595.7},{"s":"Myotube","x":550.7,"x2":566,"y":612.7,"y2":622.7,"tx":573.3,"ty":616.7}],
"red":[{"x":156,"y":767},{"x":159,"y":770},{"x":162,"y":766},{"x":164,"y":769},{"x":166,"y":756},{"x":168,"y":767},{"x":170,"y":770},{"x":172,"y":760},{"x":174,"y":767},{"x":177,"y":769},{"x":180,"y":772},{"x":190,"y":758},{"x":191,"y":763},{"x":193,"y":757},{"x":195,"y":762},{"x":197,"y":765},{"x":199,"y":760},{"x":202,"y":763},{"x":204,"y":759},{"x":207,"y":766},{"x":209,"y":762},{"x":211,"y":760},{"x":214,"y":766},{"x":216,"y":758},{"x":219,"y":764},{"x":221,"y":768},{"x":224,"y":763},{"x":226,"y":770},{"x":230,"y":772},{"x":233,"y":771},{"x":237,"y":772},{"x":241,"y":772},{"x":247,"y":772},{"x":251,"y":769},{"x":253,"y":766},{"x":256,"y":767},{"x":258,"y":765},{"x":261,"y":766},{"x":264,"y":764},{"x":267,"y":763},{"x":270,"y":766},{"x":272,"y":762},{"x":276,"y":765},{"x":278,"y":764},{"x":281,"y":760},{"x":284,"y":763},{"x":287,"y":752},{"x":290,"y":762},{"x":293,"y":750},{"x":295,"y":758},{"x":298,"y":748},{"x":301,"y":760},{"x":303,"y":743},{"x":306,"y":753},{"x":309,"y":742},{"x":312,"y":755},{"x":315,"y":748},{"x":318,"y":737},{"x":320,"y":752},{"x":322,"y":750},{"x":325,"y":763},{"x":327,"y":753},{"x":330,"y":763},{"x":333,"y":770},{"x":337,"y":772},{"x":341,"y":770},{"x":343,"y":762},{"x":346,"y":767},{"x":347,"y":737},{"x":350,"y":763},{"x":354,"y":769},{"x":358,"y":763},{"x":360,"y":752},{"x":364,"y":758},{"x":367,"y":752},{"x":369,"y":759},{"x":372,"y":763},{"x":375,"y":770},{"x":377,"y":763},{"x":380,"y":764},{"x":383,"y":763},{"x":386,"y":765},{"x":388,"y":763},{"x":391,"y":764},{"x":394,"y":766},{"x":398,"y":765},{"x":401,"y":763},{"x":404,"y":766},{"x":408,"y":765},{"x":411,"y":764},{"x":415,"y":767},{"x":419,"y":768},{"x":423,"y":767},{"x":427,"y":768},{"x":431,"y":767},{"x":434,"y":769},{"x":438,"y":768},{"x":442,"y":769},{"x":446,"y":769},{"x":450,"y":768},{"x":453,"y":769},{"x":457,"y":768},{"x":461,"y":769},{"x":465,"y":770},{"x":469,"y":769},{"x":473,"y":769},{"x":476,"y":770},{"x":480,"y":769},{"x":484,"y":768},{"x":488,"y":766},{"x":490,"y":764},{"x":492,"y":767},{"x":494,"y":768},{"x":496,"y":772},{"x":499,"y":773}],
"black":[{"x":156,"y":815},{"x":159,"y":814},{"x":162,"y":812},{"x":165,"y":811},{"x":167,"y":808},{"x":170,"y":813},{"x":172,"y":807},{"x":175,"y":812},{"x":178,"y":814},{"x":181,"y":817},{"x":190,"y":807},{"x":192,"y":808},{"x":195,"y":809},{"x":198,"y":810},{"x":201,"y":808},{"x":204,"y":810},{"x":207,"y":811},{"x":210,"y":810},{"x":212,"y":812},{"x":214,"y":810},{"x":218,"y":812},{"x":222,"y":813},{"x":226,"y":815},{"x":230,"y":816},{"x":233,"y":813},{"x":239,"y":814},{"x":245,"y":815},{"x":251,"y":813},{"x":256,"y":812},{"x":262,"y":812},{"x":268,"y":812},{"x":274,"y":810},{"x":279,"y":810},{"x":285,"y":808},{"x":289,"y":807},{"x":293,"y":804},{"x":296,"y":807},{"x":300,"y":803},{"x":303,"y":808},{"x":306,"y":802},{"x":309,"y":810},{"x":312,"y":807},{"x":315,"y":810},{"x":318,"y":790},{"x":320,"y":802},{"x":322,"y":807},{"x":325,"y":810},{"x":328,"y":808},{"x":332,"y":814},{"x":337,"y":816},{"x":343,"y":813},{"x":346,"y":812},{"x":348,"y":801},{"x":350,"y":812},{"x":354,"y":815},{"x":360,"y":807},{"x":364,"y":810},{"x":366,"y":808},{"x":370,"y":812},{"x":377,"y":810},{"x":383,"y":812},{"x":388,"y":810},{"x":394,"y":812},{"x":400,"y":812},{"x":406,"y":813},{"x":413,"y":812},{"x":421,"y":814},{"x":429,"y":812},{"x":436,"y":814},{"x":444,"y":813},{"x":452,"y":814},{"x":459,"y":813},{"x":467,"y":814},{"x":475,"y":814},{"x":482,"y":813},{"x":488,"y":812},{"x":491,"y":811},{"x":494,"y":813},{"x":497,"y":816},{"x":200,"y":809},{"x":203,"y":811},{"x":206,"y":810},{"x":216,"y":811},{"x":220,"y":813},{"x":224,"y":814},{"x":228,"y":815},{"x":236,"y":815},{"x":242,"y":814},{"x":248,"y":814},{"x":254,"y":812},{"x":259,"y":813},{"x":265,"y":812},{"x":271,"y":811},{"x":277,"y":810},{"x":282,"y":809},{"x":287,"y":807},{"x":291,"y":806},{"x":298,"y":805},{"x":305,"y":806},{"x":311,"y":809},{"x":352,"y":813},{"x":357,"y":811},{"x":362,"y":808},{"x":368,"y":810},{"x":373,"y":811},{"x":380,"y":811},{"x":386,"y":811},{"x":391,"y":811},{"x":397,"y":812},{"x":403,"y":812},{"x":410,"y":813},{"x":417,"y":813},{"x":425,"y":813},{"x":433,"y":813},{"x":440,"y":814},{"x":448,"y":813},{"x":456,"y":814},{"x":463,"y":814},{"x":471,"y":814},{"x":478,"y":813},{"x":485,"y":812}],
"segs":[{"x":156,"x2":497,"y":715.4,"y2":716.2,"c":"k"},{"x":157,"x2":158,"y":713,"y2":718,"c":"k"},{"x":161,"x2":162,"y":713,"y2":718,"c":"k"},{"x":163,"x2":166,"y":713,"y2":718,"c":"k"},{"x":170,"x2":172,"y":713,"y2":718,"c":"k"},{"x":173,"x2":176,"y":713,"y2":718,"c":"k"},{"x":177,"x2":179,"y":713,"y2":718,"c":"k"},{"x":196,"x2":197,"y":713,"y2":718,"c":"k"},{"x":199,"x2":200,"y":713,"y2":718,"c":"k"},{"x":203,"x2":204,"y":713,"y2":718,"c":"k"},{"x":208,"x2":209,"y":713,"y2":718,"c":"k"},{"x":213,"x2":214,"y":713,"y2":718,"c":"k"},{"x":218,"x2":219,"y":713,"y2":718,"c":"k"},{"x":221,"x2":222,"y":713,"y2":718,"c":"k"},{"x":226,"x2":227,"y":713,"y2":718,"c":"k"},{"x":231,"x2":232,"y":713,"y2":718,"c":"k"},{"x":236,"x2":237,"y":713,"y2":718,"c":"k"},{"x":241,"x2":242,"y":713,"y2":718,"c":"k"},{"x":246,"x2":247,"y":713,"y2":718,"c":"k"},{"x":256,"x2":264,"y":713,"y2":718,"c":"k"},{"x":268,"x2":272,"y":713,"y2":718,"c":"k"},{"x":275,"x2":278,"y":713,"y2":718,"c":"k"},{"x":280,"x2":285,"y":713,"y2":718,"c":"k"},{"x":287,"x2":290,"y":713,"y2":718,"c":"k"},{"x":294,"x2":296,"y":713,"y2":718,"c":"k"},{"x":302,"x2":306,"y":713,"y2":718,"c":"k"},{"x":313,"x2":317,"y":713,"y2":718,"c":"k"},{"x":319,"x2":324,"y":713,"y2":718,"c":"k"},{"x":326,"x2":333,"y":713,"y2":718,"c":"k"},{"x":345,"x2":349,"y":713,"y2":718,"c":"k"},{"x":358,"x2":367,"y":713,"y2":718,"c":"k"},{"x":380,"x2":385,"y":713,"y2":718,"c":"k"},{"x":388,"x2":392,"y":713,"y2":718,"c":"k"},{"x":395,"x2":402,"y":713,"y2":718,"c":"k"},{"x":403,"x2":415,"y":713,"y2":718,"c":"k"},{"x":417,"x2":460,"y":713,"y2":718,"c":"k"},{"x":464,"x2":473,"y":713,"y2":718,"c":"k"},{"x":477,"x2":480,"y":713,"y2":718,"c":"k"},{"x":483,"x2":494,"y":713,"y2":718,"c":"k"},{"x":496,"x2":497,"y":713,"y2":718,"c":"k"},
{"x":156,"x2":156.7,"y":719,"y2":725.7,"c":"k"},{"x":194,"x2":194.7,"y":719,"y2":725.7,"c":"k"},{"x":199,"x2":199.7,"y":719,"y2":725.7,"c":"k"},{"x":203,"x2":203.7,"y":719,"y2":725.7,"c":"k"},{"x":207,"x2":207.7,"y":719,"y2":725.7,"c":"k"},{"x":210,"x2":210.7,"y":719,"y2":725.7,"c":"k"},{"x":245,"x2":245.7,"y":719,"y2":725.7,"c":"k"},{"x":249,"x2":249.7,"y":719,"y2":725.7,"c":"k"},{"x":260,"x2":262,"y":719,"y2":725.7,"c":"k"},{"x":264,"x2":266,"y":719,"y2":725.7,"c":"k"},{"x":268,"x2":268.7,"y":719,"y2":725.7,"c":"k"},{"x":270,"x2":272,"y":719,"y2":725.7,"c":"k"},{"x":274,"x2":274.7,"y":719,"y2":725.7,"c":"k"},{"x":276,"x2":279,"y":719,"y2":725.7,"c":"k"},{"x":285,"x2":285.7,"y":719,"y2":725.7,"c":"k"},{"x":289,"x2":289.7,"y":719,"y2":725.7,"c":"k"},{"x":302,"x2":302.7,"y":719,"y2":725.7,"c":"k"},{"x":360,"x2":362,"y":719,"y2":725.7,"c":"k"},{"x":364,"x2":367,"y":719,"y2":725.7,"c":"k"},{"x":381,"x2":381.7,"y":719,"y2":725.7,"c":"k"},{"x":385,"x2":385.7,"y":719,"y2":725.7,"c":"k"},{"x":391,"x2":391.7,"y":719,"y2":725.7,"c":"k"},{"x":394,"x2":394.7,"y":719,"y2":725.7,"c":"k"},{"x":398,"x2":398.7,"y":719,"y2":725.7,"c":"k"},{"x":406,"x2":406.7,"y":719,"y2":725.7,"c":"k"},{"x":413,"x2":413.7,"y":719,"y2":725.7,"c":"k"},{"x":419,"x2":419.7,"y":719,"y2":725.7,"c":"k"},{"x":425,"x2":425.7,"y":719,"y2":725.7,"c":"k"},{"x":432,"x2":432.7,"y":719,"y2":725.7,"c":"k"},{"x":438,"x2":438.7,"y":719,"y2":725.7,"c":"k"},{"x":442,"x2":442.7,"y":719,"y2":725.7,"c":"k"},{"x":446,"x2":446.7,"y":719,"y2":725.7,"c":"k"},{"x":452,"x2":452.7,"y":719,"y2":725.7,"c":"k"},{"x":461,"x2":461.7,"y":719,"y2":725.7,"c":"k"},{"x":465,"x2":465.7,"y":719,"y2":725.7,"c":"k"},{"x":471,"x2":474,"y":719,"y2":725.7,"c":"k"},{"x":482,"x2":482.7,"y":719,"y2":725.7,"c":"k"},{"x":486,"x2":486.7,"y":719,"y2":725.7,"c":"k"},{"x":492,"x2":492.7,"y":719,"y2":725.7,"c":"k"},
{"x":200,"x2":200.6,"y":731,"y2":736,"c":"k"},{"x":205,"x2":205.6,"y":731,"y2":736,"c":"k"},{"x":276,"x2":276.6,"y":731,"y2":736,"c":"k"},{"x":293,"x2":293.6,"y":731,"y2":736,"c":"k"},{"x":297,"x2":297.6,"y":731,"y2":736,"c":"k"},{"x":302,"x2":305,"y":731,"y2":736,"c":"k"},{"x":313,"x2":313.6,"y":731,"y2":736,"c":"k"},{"x":316,"x2":316.6,"y":731,"y2":736,"c":"k"},{"x":320,"x2":320.6,"y":731,"y2":736,"c":"k"},{"x":346,"x2":346.6,"y":731,"y2":736,"c":"k"},{"x":364,"x2":364.6,"y":731,"y2":736,"c":"k"},
{"x":157,"x2":158,"y":775.7,"y2":781,"c":"r"},{"x":161,"x2":162,"y":775.7,"y2":781,"c":"r"},{"x":165,"x2":166,"y":775.7,"y2":781,"c":"r"},{"x":172,"x2":173,"y":775.7,"y2":781,"c":"r"},{"x":175,"x2":176,"y":775.7,"y2":781,"c":"r"},{"x":190,"x2":192,"y":775.7,"y2":781,"c":"r"},{"x":194,"x2":196,"y":775.7,"y2":781,"c":"r"},{"x":199,"x2":201,"y":775.7,"y2":781,"c":"r"},{"x":203,"x2":208,"y":775.7,"y2":781,"c":"r"},{"x":209,"x2":214,"y":775.7,"y2":781,"c":"r"},{"x":215,"x2":216,"y":775.7,"y2":781,"c":"r"},{"x":250,"x2":251,"y":775.7,"y2":781,"c":"r"},{"x":266,"x2":268,"y":775.7,"y2":781,"c":"r"},{"x":269,"x2":274,"y":775.7,"y2":781,"c":"r"},{"x":275,"x2":280,"y":775.7,"y2":781,"c":"r"},{"x":281,"x2":290,"y":775.7,"y2":781,"c":"r"},{"x":291,"x2":296,"y":775.7,"y2":781,"c":"r"},{"x":297,"x2":305,"y":775.7,"y2":781,"c":"r"},{"x":306,"x2":312,"y":775.7,"y2":781,"c":"r"},{"x":313,"x2":320,"y":775.7,"y2":781,"c":"r"},{"x":321,"x2":329,"y":775.7,"y2":781,"c":"r"},{"x":337,"x2":338,"y":775.7,"y2":781,"c":"r"},{"x":339,"x2":340,"y":775.7,"y2":781,"c":"r"},{"x":348,"x2":349,"y":775.7,"y2":781,"c":"r"},{"x":354,"x2":358,"y":775.7,"y2":781,"c":"r"},{"x":359,"x2":367,"y":775.7,"y2":781,"c":"r"},{"x":377,"x2":379,"y":775.7,"y2":781,"c":"r"},{"x":381,"x2":385,"y":775.7,"y2":781,"c":"r"},{"x":387,"x2":394,"y":775.7,"y2":781,"c":"r"},{"x":400,"x2":401,"y":775.7,"y2":781,"c":"r"},{"x":408,"x2":409,"y":775.7,"y2":781,"c":"r"},{"x":415,"x2":416,"y":775.7,"y2":781,"c":"r"},{"x":421,"x2":422,"y":775.7,"y2":781,"c":"r"},{"x":488,"x2":489,"y":775.7,"y2":781,"c":"r"},{"x":490,"x2":491,"y":775.7,"y2":781,"c":"r"},{"x":492,"x2":493,"y":775.7,"y2":781,"c":"r"},
{"x":156,"x2":168,"y":856,"y2":856.8,"c":"d"},{"x":172,"x2":180,"y":856,"y2":856.8,"c":"d"},{"x":190,"x2":225,"y":856,"y2":856.8,"c":"d"},{"x":232,"x2":240,"y":856,"y2":856.8,"c":"d"},{"x":246,"x2":300,"y":856,"y2":856.8,"c":"d"},{"x":305,"x2":345,"y":856,"y2":856.8,"c":"d"},{"x":350,"x2":360,"y":856,"y2":856.8,"c":"d"},{"x":366,"x2":497,"y":856,"y2":856.8,"c":"d"},
{"x":191,"x2":278,"y":914,"y2":917,"c":"k"},{"x":300,"x2":360,"y":914,"y2":917,"c":"k"},{"x":266,"x2":266.7,"y":917,"y2":920,"c":"k"},{"x":357,"x2":357.7,"y":917,"y2":920,"c":"k"},{"x":198.3,"x2":218.3,"y":950,"y2":952,"c":"r"},{"x":222.3,"x2":254.7,"y":950,"y2":952,"c":"r"},{"x":258.7,"x2":278.3,"y":950,"y2":952,"c":"r"},{"x":300,"x2":351,"y":950,"y2":952,"c":"r"},{"x":191,"x2":278,"y":996.2,"y2":997,"c":"d"},{"x":300,"x2":351,"y":996.2,"y2":997,"c":"d"}],
"insetRed":[{"g":1,"x":191,"y":945.3},{"g":1,"x":196.7,"y":944},{"g":1,"x":201.7,"y":942.3},{"g":1,"x":210,"y":943.3},{"g":1,"x":218.3,"y":944.7},{"g":1,"x":225,"y":941},{"g":1,"x":233.3,"y":940.7},{"g":1,"x":240,"y":941},{"g":1,"x":246.7,"y":940.3},{"g":1,"x":251.7,"y":942.3},{"g":1,"x":258.3,"y":944.7},{"g":1,"x":265,"y":942.7},{"g":1,"x":271.7,"y":940.7},{"g":1,"x":278,"y":939},{"g":2,"x":300,"y":936.7},{"g":2,"x":305,"y":936.3},{"g":2,"x":310,"y":935.7},{"g":2,"x":315,"y":937.7},{"g":2,"x":321.7,"y":939},{"g":2,"x":326.7,"y":937.3},{"g":2,"x":331.7,"y":936},{"g":2,"x":336.7,"y":938},{"g":2,"x":341.7,"y":941.7},{"g":2,"x":346.7,"y":942.7},{"g":2,"x":353.3,"y":944.7},{"g":2,"x":360,"y":945.7},{"g":2,"x":360.7,"y":949}],
"insetBlack":[{"g":1,"x":191,"y":973.7},{"g":1,"x":196.7,"y":972.3},{"g":1,"x":206.7,"y":971},{"g":1,"x":216.7,"y":971.3},{"g":1,"x":225,"y":970.3},{"g":1,"x":236.7,"y":969.3},{"g":1,"x":245,"y":969.3},{"g":1,"x":253.3,"y":970.7},{"g":1,"x":263.3,"y":972},{"g":1,"x":271.7,"y":971.3},{"g":1,"x":278,"y":970},{"g":2,"x":300,"y":969},{"g":2,"x":306.7,"y":968},{"g":2,"x":316.7,"y":968.3},{"g":2,"x":330,"y":969},{"g":2,"x":338.3,"y":970},{"g":2,"x":346.7,"y":972.3},{"g":2,"x":353.3,"y":973.7},{"g":2,"x":360,"y":974.3}],
"dLines":[{"x":144.3,"y":712.3,"x2":144.3,"y2":860,"k":"f"},{"x":144.3,"y":712.3,"x2":512.3,"y2":712.3,"k":"f"},{"x":144.3,"y":860,"x2":512.3,"y2":860,"k":"f"},{"x":514.3,"y":725,"x2":514.3,"y2":860.7,"k":"f"},{"x":176.7,"y":912.7,"x2":440,"y2":912.7,"k":"f"},{"x":176.7,"y":999.3,"x2":440,"y2":999.3,"k":"f"},{"x":176.7,"y":912.7,"x2":176.7,"y2":999.3,"k":"f"},{"x":440,"y":912.7,"x2":440,"y2":999.3,"k":"f"},{"x":359,"y":864,"x2":176.7,"y2":912.7,"k":"f"},{"x":367.8,"y":864,"x2":440,"y2":912.7,"k":"f"},{"x":501,"y":722.3,"x2":506.7,"y2":722.3,"k":"f"},{"x":506.7,"y":721.7,"x2":517.7,"y2":712.3,"k":"f"},{"x":501,"y":734,"x2":507.3,"y2":734,"k":"f"},{"x":507.3,"y":734,"x2":518.3,"y2":722.3,"k":"f"},{"x":307.7,"y":999.3,"x2":307.7,"y2":1032.7,"k":"f"},
{"x":359,"y":700.3,"x2":367.8,"y2":700.3,"k":"b"},{"x":359,"y":864,"x2":367.8,"y2":864,"k":"b"},{"x":359,"y":700.3,"x2":359,"y2":864,"k":"b"},{"x":367.8,"y":700.3,"x2":367.8,"y2":864,"k":"b"},
{"x":147.7,"y":864.3,"x2":268,"y2":864.3,"k":"s"},{"x":177.7,"y":1007.3,"x2":289.3,"y2":1007.3,"k":"s"},
{"x":515,"y":740,"x2":515,"y2":773.3,"k":"r"},{"x":515,"y":740,"x2":518,"y2":740,"k":"r"},{"x":508.3,"y":773.3,"x2":515,"y2":773.3,"k":"r"},{"x":515,"y":784,"x2":515,"y2":817.3,"k":"r"},{"x":515,"y":784,"x2":518,"y2":784,"k":"r"},{"x":507.5,"y":817.3,"x2":515,"y2":817.3,"k":"r"},{"x":515.7,"y":822.3,"x2":515.7,"y2":855.7,"k":"r"},{"x":515.7,"y":822.3,"x2":518,"y2":822.3,"k":"r"},{"x":509,"y":855.7,"x2":515.7,"y2":855.7,"k":"r"},{"x":440,"y":929.3,"x2":440,"y2":949.3,"k":"r"},{"x":440,"y":929.3,"x2":443,"y2":929.3,"k":"r"},{"x":435,"y":949.3,"x2":440,"y2":949.3,"k":"r"},{"x":441,"y":954.3,"x2":441,"y2":968.3,"k":"r"},{"x":441,"y":954.3,"x2":444,"y2":954.3,"k":"r"},{"x":437,"y":974.3,"x2":441,"y2":974.3,"k":"r"},{"x":440,"y":979.3,"x2":440,"y2":999.3,"k":"r"},{"x":440,"y":979.3,"x2":443,"y2":979.3,"k":"r"},{"x":436,"y":999.3,"x2":440,"y2":999.3,"k":"r"},
{"x":46.7,"y":1032.7,"x2":658,"y2":1032.7,"k":"g"},{"x":46.7,"y":1032.7,"x2":46.7,"y2":1050,"k":"g"},{"x":658,"y":1032.7,"x2":658,"y2":1050,"k":"g"},{"x":177,"y":914.3,"x2":440,"y2":914.3,"k":"t"},{"x":186.7,"y":974.3,"x2":191,"y2":974.3,"k":"t"},{"x":295.7,"y":974.3,"x2":300,"y2":974.3,"k":"t"},{"x":360,"y":974.3,"x2":379.3,"y2":974.3,"k":"t"},{"x":285,"y":949,"x2":300,"y2":949,"k":"p"},{"x":360.7,"y":948.7,"x2":372.7,"y2":948.7,"k":"p"},{"x":156,"y":773.3,"x2":181,"y2":773.3,"k":"R"},{"x":190,"y":773.3,"x2":500,"y2":773.3,"k":"R"},{"x":156,"y":817.7,"x2":181,"y2":817.7,"k":"K"},{"x":190,"y":817.7,"x2":498,"y2":817.7,"k":"K"}],
"dLeft":[{"x":137.8,"y":708.3,"t":"Titin (NM_011652)"}],
"dSmall":[{"x":527.3,"y":738.3,"t":"200"},{"x":521,"y":771.3,"t":"0"},{"x":543.3,"y":751.7,"t":"TDP-43 IP"},{"x":526,"y":782.7,"t":"200"},{"x":535,"y":797.3,"t":"Input"},{"x":521,"y":814.3,"t":"0"},{"x":526,"y":821.7,"t":"200"},{"x":536,"y":836,"t":"IgG"},{"x":521,"y":854,"t":"0"},{"x":452,"y":927.7,"t":"200"},{"x":463.5,"y":938.7,"t":"TDP-43 IP"},{"x":452.7,"y":953,"t":"200"},{"x":456,"y":963.7,"t":"Input"},{"x":453,"y":978.3,"t":"200"},{"x":454,"y":989,"t":"IgG"},{"x":446,"y":998.7,"t":"0"}],
"dPeaks":[{"x":520.7,"y":707.3,"t":"UGUGU"},{"x":522.3,"y":719.7,"t":"Combined Peaks"}],
"dDesc":[{"x":97.6,"y":749,"t":"TDP-43 peaks in"},{"x":97.6,"y":760,"t":"titin transcript"},{"x":97.6,"y":771.3,"t":"from myotubes"}],
"dScale":[{"x":210.5,"y":872.3,"t":"100,000 bp scale"},{"x":231.7,"y":1016.7,"t":"500 bp scale"}],
"dRed":[{"x":545.7,"y":882.7,"t":"Input represents all RNP"},{"x":545.7,"y":896,"t":"complexes"},{"x":585,"y":1021.7,"t":"UG-rich sequences in RED"}],
"seq":[{"x":60,"y":1041.3,"t":"GUGUUCUUCUUGUGU","c":"r"},{"x":146.2,"y":1041.3,"t":"AAAAGUAGUAGAAAUCAUUAGAGAA","c":"k"},{"x":284.5,"y":1041.3,"t":"UGUGCUUGUGUG","c":"r"},{"x":356,"y":1041.3,"t":"AAACCUAUCCGAGAUCAGCAUGUGAAGCCCAAGGGAACAGC","c":"k"},{"x":585,"y":1041.3,"t":"UGUGUGUGUG","c":"r"}]
},
"vconcat":[
{"width":747,"height":485,
"encoding":{"x":{"field":"x","type":"quantitative","scale":{"domain":[0,747],"nice":false,"zero":false},"axis":null},"y":{"field":"y","type":"quantitative","scale":{"domain":[485,0],"nice":false,"zero":false},"axis":null}},
"resolve":{"scale":{"color":"independent","size":"independent","shape":"independent","strokeWidth":"independent"}},
"layer":[
{"data":{"name":"nodes"},"transform":[{"lookup":"h","from":{"data":{"name":"hubs"},"key":"h","fields":["hx","hy"]}}],"mark":{"type":"rule","color":"#9fb2e0","opacity":0.16,"strokeWidth":0.6},"encoding":{"x2":{"field":"hx"},"y2":{"field":"hy"}}},
{"data":{"name":"nodes"},"transform":[{"lookup":"h","from":{"data":{"name":"hubs"},"key":"h","fields":["ax","ay"]}}],"mark":{"type":"rule","color":"#9fb2e0","opacity":0.16,"strokeWidth":0.6},"encoding":{"x2":{"field":"ax"},"y2":{"field":"ay"}}},
{"data":{"name":"nodes"},"transform":[{"lookup":"h","from":{"data":{"name":"hubs"},"key":"h","fields":["bx","by"]}}],"mark":{"type":"rule","color":"#9fb2e0","opacity":0.16,"strokeWidth":0.6},"encoding":{"x2":{"field":"bx"},"y2":{"field":"by"}}},
{"data":{"name":"aLines"},"mark":{"type":"rule"},"encoding":{"x2":{"field":"x2"},"y2":{"field":"y2"},"color":{"field":"k","type":"nominal","legend":null,"scale":{"domain":["e","E","c","p"],"range":["#f0b0ac","#ee9a94","#c3cfe8","#f6d2d3"]}},"strokeWidth":{"field":"k","type":"nominal","legend":null,"scale":{"type":"ordinal","domain":["e","E","c","p"],"range":[0.7,1.2,4,4]}}}},
{"data":{"name":"nodes"},"mark":{"type":"point","filled":true,"opacity":1},"encoding":{"color":{"field":"t","type":"nominal","legend":null,"scale":{"domain":["b","y","g","G"],"range":["#0a0a0a","#f6ee1a","#b4b4b4","#9a9a9a"]}},"shape":{"field":"t","type":"nominal","legend":null,"scale":{"domain":["b","y","g","G"],"range":["circle","circle","triangle-up","circle"]}},"size":{"field":"t","type":"nominal","legend":null,"scale":{"type":"ordinal","domain":["b","y","g","G"],"range":[20,22,14,24]}}}},
{"data":{"name":"go"},"mark":{"type":"point","filled":true,"fill":"#ffff00","stroke":"#000","strokeWidth":1.5,"opacity":1,"size":115}},
{"data":{"name":"aTitles"},"mark":{"type":"text","fontSize":7.8,"align":"center","color":"#222"},"encoding":{"text":{"field":"t"}}},
{"data":{"name":"aBlue"},"mark":{"type":"text","fontSize":7.8,"align":"center","color":"#6aa6e2"},"encoding":{"text":{"field":"t"}}},
{"data":{"name":"aText"},"mark":{"type":"text","fontSize":7.8,"align":"left","color":"#222"},"encoding":{"text":{"field":"t"}}},
{"data":{"values":[{"x":1,"y":7,"t":"a"}]},"mark":{"type":"text","fontSize":11,"fontWeight":"bold","align":"left","color":"#000"},"encoding":{"text":{"field":"t"}}}
]},
{"hconcat":[
{"width":316,"height":209,
"encoding":{"x":{"field":"x","type":"quantitative","scale":{"domain":[0,316],"nice":false,"zero":false},"axis":null},"y":{"field":"y","type":"quantitative","scale":{"domain":[694,485],"nice":false,"zero":false},"axis":null}},
"layer":[
{"data":{"name":"pie"},"mark":{"type":"arc","radius":51,"stroke":"#000","strokeWidth":1.2,"strokeJoin":"miter"},"encoding":{"theta":{"field":"a0","type":"quantitative","scale":{"domain":[0,360]}},"theta2":{"field":"a1"},"color":{"field":"s","type":"nominal","legend":null,"scale":{"domain":["CDS","5' UTR","3'-UTR","Proximal Intron","Distal Intron"],"range":["#0b3cf5","#ff2d12","#00c40a","#bf35e6","#ff9a00"]}}}},
{"data":{"name":"pieLeaders"},"mark":{"type":"rule","color":"#777","strokeWidth":0.7},"encoding":{"x2":{"field":"x2"},"y2":{"field":"y2"}}},
{"data":{"name":"pieLabels"},"mark":{"type":"text","fontSize":8.8,"align":"center"},"encoding":{"text":{"field":"t"},"color":{"field":"s","type":"nominal","legend":null,"scale":{"domain":["CDS","5' UTR","3'-UTR","Proximal Intron","Distal Intron"],"range":["#2b52f0","#ee2a20","#1db52f","#c03fe0","#f29a1f"]}}}},
{"data":{"values":[{"x":113,"y":506,"t":"Myoblast TDP-43 eCLIP Peak"},{"x":113,"y":519.3,"t":"Distribution (n=536 peaks)"}]},"mark":{"type":"text","fontSize":10.9,"align":"center","color":"#222"},"encoding":{"text":{"field":"t"}}},
{"data":{"values":[{"x":15,"y":492.7,"t":"b"},{"x":262,"y":494,"t":"c"}]},"mark":{"type":"text","fontSize":11,"fontWeight":"bold","align":"center","color":"#000"},"encoding":{"text":{"field":"t"}}}
]},
{"vconcat":[
{"width":10,"height":19,"data":{"values":[{"x":0}]},"mark":{"type":"rule","opacity":0},"encoding":{}},
{"width":201,"height":150,"data":{"name":"bars"},"mark":{"type":"bar","stroke":"#000","strokeWidth":1.8},
"encoding":{
"x":{"field":"g","type":"nominal","sort":["Exons","5' UTR","3' UTR","Proximal intron","Distal intron"],"title":null,"scale":{"paddingInner":0.15,"paddingOuter":0.045},"axis":{"labelAngle":0,"labelFontSize":7.5,"labelColor":"#222","domainColor":"#000","domainWidth":1.5,"tickColor":"#000","tickWidth":1.5,"tickSize":3,"labelPadding":2,"labelExpr":"indexof(datum.value,'intron')>0 ? split(datum.value,' ') : datum.value"}},
"xOffset":{"field":"s","type":"nominal","sort":["Polymenidou et al., 2011","Tollervey et al., 2011","Myoblast","Myotube"],"scale":{"paddingInner":0.3,"paddingOuter":0}},
"y":{"field":"v","type":"quantitative","scale":{"domain":[0,80],"nice":false},"title":"TDP-43 Peak distribution (%)","axis":{"values":[0,20,40,60,80],"grid":false,"labelFontSize":7,"labelColor":"#222","domainColor":"#000","domainWidth":1.5,"tickColor":"#000","tickWidth":1.5,"tickSize":5,"labelPadding":3,"titleFontSize":7.9,"titleFontWeight":"normal","titleColor":"#222","titleX":-25,"titleY":79}},
"color":{"field":"s","type":"nominal","legend":null,"scale":{"domain":["Polymenidou et al., 2011","Tollervey et al., 2011","Myoblast","Myotube"],"range":["#0b3cf5","#ff2d12","#00c40a","#bf35e6"]}}
}}
],"spacing":0,"bounds":"flush"},
{"width":431,"height":209,"data":{"name":"barKey"},
"encoding":{"x":{"field":"x","type":"quantitative","scale":{"domain":[316,747],"nice":false,"zero":false},"axis":null},"y":{"field":"y","type":"quantitative","scale":{"domain":[694,485],"nice":false,"zero":false},"axis":null}},
"layer":[
{"mark":{"type":"rect","stroke":"#000","strokeWidth":1.5},"encoding":{"x2":{"field":"x2"},"y2":{"field":"y2"},"color":{"field":"s","type":"nominal","legend":null,"scale":{"domain":["Polymenidou et al., 2011","Tollervey et al., 2011","Myoblast","Myotube"],"range":["#0b3cf5","#ff2d12","#00c40a","#bf35e6"]}}}},
{"mark":{"type":"text","fontSize":7.5,"align":"left","color":"#222"},"encoding":{"x":{"field":"tx","type":"quantitative"},"y":{"field":"ty","type":"quantitative"},"text":{"field":"s"}}}
]}
],"spacing":0,"bounds":"flush"},
{"width":747,"height":356,
"encoding":{"x":{"field":"x","type":"quantitative","scale":{"domain":[0,747],"nice":false,"zero":false},"axis":null},"y":{"field":"y","type":"quantitative","scale":{"domain":[1050,694],"nice":false,"zero":false},"axis":null}},
"resolve":{"scale":{"color":"independent","strokeWidth":"independent"}},
"layer":[
{"data":{"name":"red"},"mark":{"type":"rule","color":"#ff2a2a","strokeWidth":2.8,"opacity":0.75},"encoding":{"y2":{"datum":773.3}}},
{"data":{"name":"black"},"mark":{"type":"rule","color":"#111","strokeWidth":2.8,"opacity":0.85},"encoding":{"y2":{"datum":817.7}}},
{"data":{"name":"segs"},"mark":{"type":"rect"},"encoding":{"x2":{"field":"x2"},"y2":{"field":"y2"},"color":{"field":"c","type":"nominal","legend":null,"scale":{"domain":["k","r","d"],"range":["#111","#f02020","#555"]}}}},
{"data":{"name":"insetRed"},"mark":{"type":"area","color":"#ff1a0a"},"encoding":{"detail":{"field":"g"},"y2":{"datum":949}}},
{"data":{"name":"insetBlack"},"mark":{"type":"area","color":"#000"},"encoding":{"detail":{"field":"g"},"y2":{"datum":974.3}}},
{"data":{"name":"dLines"},"mark":{"type":"rule"},"encoding":{"x2":{"field":"x2"},"y2":{"field":"y2"},"color":{"field":"k","type":"nominal","legend":null,"scale":{"domain":["f","b","s","r","g","t","p","R","K"],"range":["#333","#5b85d0","#000","#f00","#888","#999","#f99","#f22","#222"]}},"strokeWidth":{"field":"k","type":"nominal","legend":null,"scale":{"type":"ordinal","domain":["f","b","s","r","g","t","p","R","K"],"range":[1.2,1,2.5,2.3,0.9,0.7,0.7,1,1]}}}},
{"data":{"name":"dLeft"},"mark":{"type":"text","fontSize":7.7,"align":"right","color":"#222"},"encoding":{"text":{"field":"t"}}},
{"data":{"name":"dSmall"},"mark":{"type":"text","fontSize":7.7,"align":"center","color":"#222"},"encoding":{"text":{"field":"t"}}},
{"data":{"name":"dPeaks"},"mark":{"type":"text","fontSize":7.7,"align":"left","color":"#222"},"encoding":{"text":{"field":"t"}}},
{"data":{"name":"dDesc"},"mark":{"type":"text","fontSize":9.4,"align":"center","color":"#222"},"encoding":{"text":{"field":"t"}}},
{"data":{"name":"dScale"},"mark":{"type":"text","fontSize":10.6,"align":"center","color":"#222"},"encoding":{"text":{"field":"t"}}},
{"data":{"name":"dRed"},"mark":{"type":"text","fontSize":11,"align":"center","color":"#f00"},"encoding":{"text":{"field":"t"}}},
{"data":{"name":"seq"},"mark":{"type":"text","fontSize":7.8,"align":"left"},"encoding":{"text":{"field":"t"},"color":{"field":"c","type":"nominal","legend":null,"scale":{"domain":["r","k"],"range":["#f00","#222"]}}}},
{"data":{"values":[{"x":19,"y":703,"t":"d"}]},"mark":{"type":"text","fontSize":11,"fontWeight":"bold","align":"center","color":"#000"},"encoding":{"text":{"field":"t"}}}
]}
]}
